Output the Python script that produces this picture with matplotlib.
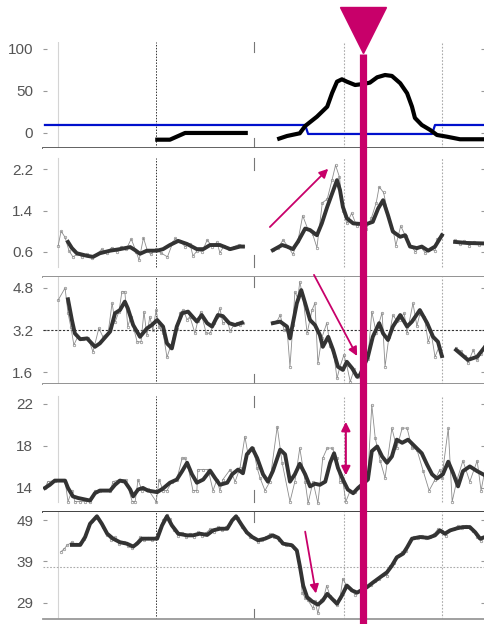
import numpy as np
import matplotlib.pyplot as plt
from matplotlib.lines import Line2D
from matplotlib.transforms import blended_transform_factory

plt.rcParams['font.family'] = ['Liberation Sans', 'DejaVu Sans']

# --- data (time in sampling steps) ---
# panel 1: level (black) and threshold (blue)
p1_black = [
    ([22.9, 25.9, 29.0, 41.8], [-8, -8, 0, 0]),
    ([47.8, 49.8, 52.4, 53.5, 55.9, 58.0, 59.0, 60.0, 61.0, 62.0, 63.7, 65.3, 66.7,
      68.2, 69.8, 71.2, 72.9, 74.3, 75.3, 75.9, 77.3, 79.0, 80.4, 82.4, 85.1, 90.2],
     [-7.5, -3.6, -0.4, 8.3, 19.4, 31.3, 47.6, 61.1, 63.9, 61.1, 57.1, 58.3, 59.9,
      66.3, 69.0, 67.9, 59.2, 47.3, 31.3, 17.9, 9.5, 3.6, -2.4, -4.4, -7.5, -7.5]),
]
p1_blue_t = [0.4, 53.5, 54.1, 79.4, 80.0, 90.2]
p1_blue_v = [9.5, 9.5, -1.2, -1.2, 9.5, 9.5]

# panel 2
p2_smooth = [
    ([5.1, 5.9, 6.9, 9.0, 10.2, 11.6, 13.7, 15.7, 17.8, 18.8, 19.8, 21.2, 23.3, 24.5,
      25.9, 27.6, 29.4, 31.4, 32.7, 34.1, 36.1, 38.2, 40.2, 40.8],
     [0.79, 0.67, 0.57, 0.52, 0.50, 0.57, 0.62, 0.65, 0.69, 0.63, 0.56, 0.62, 0.62, 0.65,
      0.73, 0.81, 0.75, 0.65, 0.65, 0.73, 0.73, 0.65, 0.70, 0.70]),
    ([46.9, 48.8, 49.8, 51.0, 52.0, 53.5, 54.5, 55.9, 56.9, 58.0, 59.0, 60.0, 60.6, 61.2,
      62.0, 63.3, 64.7, 66.1, 67.3, 68.4, 69.4, 70.4, 71.4, 72.9, 73.9, 74.9, 76.3, 77.3,
      78.6, 80.0, 81.4],
     [0.63, 0.73, 0.70, 0.65, 0.79, 1.05, 1.02, 0.92, 1.15, 1.47, 1.73, 1.99, 1.80, 1.47,
      1.25, 1.15, 1.14, 1.14, 1.18, 1.44, 1.60, 1.31, 0.99, 0.89, 0.92, 0.70, 0.67, 0.70,
      0.62, 0.70, 0.92]),
    ([84.1, 86.5, 90.2], [0.79, 0.77, 0.76]),
]
p2_raw = [
    ([3.1, 3.7, 4.5, 5.3, 6.1, 7, 8, 9, 10, 11, 12, 13, 14, 15, 16, 17, 18, 19, 19.6,
      20.5, 21.3, 22, 23, 24, 25.4, 26.5, 27, 28, 29, 30, 30.6, 31.5, 32.5, 33.5, 34.5,
      35.5, 36.1, 37, 38, 39, 40, 40.8],
     [0.72, 1.00, 0.88, 0.62, 0.50, 0.55, 0.50, 0.55, 0.48, 0.55, 0.65, 0.58, 0.68, 0.60,
      0.70, 0.65, 0.85, 0.60, 0.44, 0.87, 0.62, 0.55, 0.65, 0.58, 0.50, 0.78, 0.86, 0.80,
      0.70, 0.75, 0.52, 0.62, 0.60, 0.83, 0.70, 0.78, 0.58, 0.72, 0.65, 0.70, 0.74, 0.72]),
    ([46.9, 48, 49, 50, 51, 52, 53, 54, 55, 55.9, 57, 58, 59, 59.7, 60.5, 61.2, 62, 63,
      64, 65, 66, 67, 68, 68.6, 69.5, 70.5, 71.5, 72, 73, 74, 75, 76, 77, 78, 79, 80,
      80.5, 81.4],
     [0.63, 0.68, 0.83, 0.70, 0.55, 0.80, 1.30, 1.05, 0.95, 0.68, 1.55, 1.62, 2.00, 2.28,
      2.05, 1.40, 1.15, 1.35, 1.10, 1.20, 1.05, 1.25, 1.55, 1.86, 1.75, 1.30, 1.00, 0.72,
      1.10, 0.90, 0.72, 0.60, 0.70, 0.58, 0.65, 0.62, 0.85, 0.92]),
    ([84, 85, 86, 87, 88, 89, 90.2], [0.82, 0.75, 0.80, 0.72, 0.78, 0.74, 0.76]),
]

# panel 3
p3_smooth = [
    ([5.1, 5.9, 6.5, 7.6, 9.0, 10.6, 11.6, 13.1, 13.7, 14.7, 15.7, 16.7, 17.3, 18.4,
      19.8, 21.2, 22.2, 23.3, 24.5, 25.3, 26.3, 27.3, 28.4, 29.6, 31.4, 32.4, 33.5, 34.5,
      35.7, 36.7, 38.0, 39.2, 40.6],
     [4.37, 3.58, 3.07, 2.85, 2.88, 2.56, 2.69, 3.01, 3.14, 3.84, 3.96, 4.28, 4.03, 3.39,
      2.94, 3.26, 3.39, 3.58, 3.33, 2.69, 2.50, 3.33, 3.84, 3.90, 3.52, 3.77, 3.46, 3.33,
      3.77, 3.73, 3.46, 3.39, 3.48]),
    ([46.9, 48.4, 49.8, 50.4, 51.0, 51.8, 52.7, 53.5, 54.5, 55.5, 56.5, 57.1, 58.2, 59.2,
      60.2, 61.2, 62.0, 63.1, 64.1, 64.7, 66.3, 67.3, 68.6, 69.4, 70.4, 71.4, 72.9, 74.3,
      75.3, 76.9, 78.4, 79.6, 80.6, 81.4],
     [3.46, 3.52, 3.33, 2.88, 3.46, 4.22, 4.72, 4.22, 3.58, 3.39, 3.01, 2.56, 2.94, 2.44,
      1.80, 1.68, 1.99, 1.74, 1.42, 1.49, 2.18, 2.94, 3.46, 3.07, 2.82, 3.33, 3.77, 3.33,
      3.52, 3.96, 3.46, 2.94, 2.75, 2.21]),
    ([84.3, 85.5, 86.7, 88.6, 90.2], [2.44, 2.25, 2.06, 2.18, 2.56]),
]
p3_raw = [
    ([3.1, 4.5, 5.1, 5.7, 6.3, 7.1, 8.2, 9.2, 10.2, 11.4, 12.2, 13.3, 14.1, 14.7, 15.5,
      16.1, 16.7, 17.3, 17.9, 18.6, 19.2, 20.0, 20.6, 21.2, 21.8, 22.4, 23.1, 23.7, 24.5,
      25.3, 25.9, 26.7, 27.3, 27.9, 28.6, 29.4, 30.0, 31.0, 31.6, 32.2, 33.3, 34.1, 34.9,
      35.5, 36.1, 36.7, 37.6, 38.2, 39.0, 39.6, 40.2, 40.8],
     [4.34, 4.80, 3.85, 3.30, 2.63, 2.95, 2.85, 2.90, 2.37, 3.27, 2.95, 3.10, 4.23, 3.50,
      3.90, 4.66, 4.66, 3.33, 3.70, 3.20, 2.75, 2.75, 3.90, 3.00, 3.71, 3.20, 3.96, 3.30,
      3.10, 2.16, 2.50, 3.00, 3.25, 3.84, 3.96, 3.60, 3.70, 3.08, 3.55, 3.90, 3.08, 3.08,
      3.46, 3.70, 4.03, 3.46, 3.55, 3.16, 3.40, 3.46, 3.38, 3.48]),
    ([46.9, 47.8, 48.4, 49.2, 49.8, 50.4, 51.0, 51.4, 52.0, 52.4, 53.1, 53.9, 54.9, 55.5,
      56.1, 56.9, 57.9, 58.6, 59.4, 60.0, 60.6, 61.4, 62.0, 62.7, 63.5, 64.3, 66.3, 67.1,
      68.0, 69.2, 69.8, 70.6, 71.4, 72.2, 72.9, 73.7, 74.3, 75.5, 76.3, 76.9, 77.8, 78.6,
      79.2, 80.0, 80.8, 81.4],
     [3.50, 3.55, 3.77, 3.20, 3.25, 1.80, 3.40, 4.66, 4.40, 5.04, 4.40, 3.08, 3.96, 4.23,
      1.93, 2.90, 3.46, 2.60, 2.20, 1.36, 1.80, 2.25, 1.85, 1.23, 1.70, 1.40, 2.10, 3.90,
      3.10, 3.86, 1.80, 2.95, 3.77, 3.55, 3.60, 3.85, 3.08, 4.22, 3.35, 3.80, 3.70, 2.75,
      3.10, 2.18, 2.55, 2.20]),
    ([84.3, 85.3, 86.1, 86.7, 87.8, 88.6, 89.4, 90.2],
     [2.50, 2.40, 2.20, 1.94, 2.44, 2.05, 2.30, 2.70]),
]

# panel 4
p4_smooth_t = [0.4, 1.4, 2.4, 4.5, 5.1, 6.1, 7.1, 8.6, 9.6, 10.6, 11.6, 13.7, 14.7, 15.7,
               16.7, 17.8, 18.4, 19.4, 20.4, 21.4, 23.3, 24.5, 25.9, 27.3, 28.4, 29.4,
               30.4, 31.4, 32.7, 34.1, 35.1, 36.1, 37.6, 38.6, 39.8, 40.8, 41.6, 42.7,
               43.7, 44.9, 45.9, 46.9, 48.4, 49.4, 50.4, 51.4, 52.4, 53.5, 54.5, 55.5,
               56.5, 57.6, 58.6, 59.4, 60.2, 61.2, 62.2, 63.3, 64.3, 66.3, 67.1, 68.2,
               69.2, 70.2, 71.2, 72.2, 73.3, 74.5, 75.9, 77.3, 78.4, 79.4, 80.4, 81.6,
               82.7, 83.7, 84.7, 85.7, 87.1, 88.6, 90.2]
p4_smooth_v = [14.0, 14.3, 14.7, 14.7, 14.0, 13.2, 13.05, 12.9, 12.8, 13.5, 13.75, 13.75,
               14.3, 14.7, 14.6, 13.85, 13.2, 13.85, 14.0, 13.75, 13.6, 13.95, 14.5, 14.8,
               15.6, 16.4, 15.3, 14.5, 14.8, 15.65, 14.95, 14.3, 14.5, 15.3, 15.75, 15.4,
               17.2, 17.8, 16.85, 15.3, 14.6, 15.6, 17.65, 17.2, 14.6, 15.3, 16.3, 15.3,
               14.15, 14.4, 14.3, 14.6, 16.4, 17.3, 15.9, 14.8, 13.85, 13.5, 14.0, 14.8,
               17.5, 17.95, 17.0, 16.4, 17.0, 18.6, 18.3, 18.6, 17.95, 17.3, 16.2, 15.3,
               14.9, 15.3, 16.5, 15.4, 14.15, 15.6, 16.05, 15.6, 15.2]
p4_raw_t = [0.4, 1.0, 2.4, 4.5, 5.1, 5.9, 6.5, 7.6, 8.6, 9.6, 10.6, 11.6, 13.7, 14.3,
            15.7, 16.9, 18.2, 18.8, 19.4, 20.2, 21.4, 23.1, 23.7, 24.5, 25.3, 26.3, 27.3,
            28.4, 29.0, 29.6, 30.6, 31.4, 31.6, 32.7, 33.7, 34.7, 35.5, 36.1, 36.7, 38.2,
            39.2, 40.2, 41.2, 41.8, 42.9, 43.7, 44.3, 45.3, 46.3, 47.8, 48.8, 50.4, 51.4,
            52.4, 53.5, 54.1, 55.1, 56.1, 57.1, 58.0, 59.0, 60.0, 60.6, 61.2, 61.8, 62.7,
            63.7, 64.7, 66.3, 67.1, 67.8, 68.8, 69.8, 71.2, 72.2, 73.3, 74.3, 75.3, 76.3,
            77.6, 78.8, 80.0, 81.0, 81.4, 82.7, 83.5, 84.5, 85.7, 87.1, 88.6, 89.4, 90.2]
p4_raw_v = [14.0, 14.6, 14.7, 14.7, 12.7, 13.75, 12.7, 12.7, 12.7, 12.7, 13.75, 13.75,
            13.75, 14.6, 14.8, 14.8, 12.7, 12.7, 14.8, 13.75, 13.9, 12.7, 14.8, 13.75,
            13.75, 14.6, 14.8, 16.85, 16.85, 16.0, 13.75, 13.75, 15.75, 15.75, 15.75,
            13.75, 14.8, 13.75, 14.8, 15.75, 14.6, 15.9, 18.9, 17.3, 17.8, 15.9, 14.95,
            13.75, 14.6, 19.85, 16.4, 12.7, 14.6, 17.8, 14.6, 12.55, 14.6, 12.55, 16.85,
            17.8, 17.8, 16.85, 14.6, 14.6, 12.7, 13.75, 13.6, 14.0, 15.3, 21.9, 18.75,
            16.6, 14.95, 19.7, 17.8, 19.7, 19.7, 17.8, 17.65, 15.6, 13.75, 14.8, 15.75,
            14.95, 19.7, 12.7, 14.8, 16.6, 14.6, 16.6, 13.75, 15.75]

# panel 5
p5_smooth_t = [5.9, 7.6, 8.6, 9.6, 11.0, 12.0, 13.1, 14.3, 15.7, 17.1, 18.4, 19.2, 20.2,
               21.4, 23.3, 24.3, 25.3, 26.3, 27.6, 29.4, 30.6, 32.0, 33.5, 34.7, 36.1,
               37.6, 38.6, 39.4, 40.6, 41.6, 42.7, 43.9, 45.3, 46.9, 48.0, 49.0, 50.8,
               51.8, 52.4, 53.1, 53.9, 54.9, 56.1, 57.1, 58.0, 59.0, 60.0, 61.0, 62.0,
               63.1, 64.1, 66.1, 67.3, 68.8, 70.2, 71.2, 72.2, 73.5, 74.3, 75.3, 76.9,
               78.6, 80.0, 81.0, 82.0, 83.1, 84.5, 85.7, 87.1, 88.2, 89.2, 90.2]
p5_smooth_v = [43.0, 43.0, 44.9, 48.1, 49.9, 48.1, 45.7, 44.5, 43.65, 43.3, 42.6, 43.3,
               44.5, 44.5, 44.5, 47.7, 49.9, 47.7, 45.7, 45.3, 45.3, 45.7, 45.4, 46.5,
               46.9, 46.9, 48.9, 49.9, 47.7, 46.0, 44.9, 44.1, 44.5, 45.3, 44.7, 43.3,
               42.9, 41.65, 38.0, 33.2, 30.4, 29.4, 28.6, 29.6, 31.2, 30.0, 28.8, 30.8,
               33.2, 32.0, 31.5, 32.8, 33.9, 35.2, 36.4, 38.0, 40.0, 40.9, 42.4, 44.5,
               44.9, 44.7, 45.3, 46.5, 45.7, 46.5, 47.0, 47.3, 47.3, 46.05, 44.5, 44.9]
p5_raw_t = [3.7, 4.3, 4.9, 5.9, 6.7, 7.6, 8.4, 9.2, 10.0, 10.8, 11.4, 12.2, 13.1, 13.9,
            14.7, 15.5, 16.5, 17.3, 18.2, 19.0, 19.8, 20.6, 21.4, 22.2, 23.1, 23.7, 24.5,
            25.3, 25.9, 26.7, 27.6, 28.4, 29.2, 30.0, 30.8, 31.6, 32.4, 33.3, 34.1, 34.9,
            35.7, 36.5, 37.3, 38.2, 39.0, 39.8, 40.6, 41.4, 42.2, 43.1, 43.9, 44.7, 45.5,
            46.3, 47.1, 48.2, 48.8, 49.6, 50.4, 51.2, 51.8, 52.4, 52.9, 53.5, 54.1, 55.1,
            55.5, 56.1, 56.7, 57.3, 57.9, 58.6, 59.4, 60.0, 60.6, 61.2, 62.0, 62.9, 63.7,
            64.5, 66.1, 66.9, 67.8, 68.6, 69.4, 70.2, 70.8, 71.6, 72.4, 73.3, 74.1, 74.9,
            75.7, 76.5, 77.3, 78.2, 79.0, 79.8, 80.6, 81.4, 82.2, 83.1, 83.9, 84.7, 85.5,
            86.3, 87.1, 87.8, 88.6, 89.4, 90.2]
p5_raw_v = [41.4, 42.0, 42.9, 43.65, 43.2, 43.4, 44.5, 47.0, 48.8, 49.6, 49.0, 47.2, 45.4,
            44.2, 44.8, 43.2, 43.6, 42.8, 42.3, 43.5, 44.8, 44.2, 44.6, 44.2, 44.8, 46.5,
            49.0, 50.3, 49.2, 46.6, 45.2, 45.8, 44.9, 45.6, 45.0, 46.0, 45.2, 45.9, 46.8,
            46.2, 47.2, 46.5, 47.3, 48.2, 49.4, 49.5, 47.4, 46.0, 45.0, 44.6, 43.8, 44.3,
            44.8, 45.6, 45.0, 44.2, 43.5, 43.0, 43.2, 42.3, 41.0, 37.5, 31.5, 30.2, 29.6,
            27.7, 29.4, 26.5, 29.8, 30.4, 33.2, 30.6, 29.8, 28.6, 30.2, 34.9, 33.0, 32.2,
            31.0, 31.8, 33.0, 33.4, 34.4, 34.8, 35.8, 35.6, 37.8, 38.6, 40.3, 41.2, 41.6,
            44.0, 44.9, 44.6, 45.2, 44.6, 45.0, 45.6, 46.8, 46.3, 45.2, 46.6, 46.9, 47.6,
            47.0, 47.6, 47.0, 46.4, 44.8, 44.0, 44.9]

y_ticks = [[0, 50, 100], [0.6, 1.4, 2.2], [1.6, 3.2, 4.8], [14, 18, 22], [29, 39, 49]]
y_tick_labels = [["0", "50", "100"], ["0.6", "1.4", "2.2"], ["1.6", "3.2", "4.8"],
                 ["14", "18", "22"], ["29", "39", "49"]]
ref_lines = [None, None, 3.2, None, 37.6]

grid_t = [3.06, 23.1, 61.4, 81.4]
minor_t = 43.1
event_t = 65.3

# --- layout ---
W, H = 485, 624
fig = plt.figure(figsize=(W / 100, H / 100), dpi=100)
panel_px = [(42, 148), (148, 277), (277, 384), (384, 512), (512, 619)]
ylims = [(-17.9, 108.3), (0.109, 2.614), (1.143, 5.219), (11.71, 23.90), (25.14, 50.93)]
spine_cols = ['#555555', '#8a8a8a', '#8a8a8a', '#333333', '#999999']
vspan = [(0, 1), (0.08, 0.92), (0, 1), (0.08, 0.91), (0, 1)]
MAG = '#C8006A'
SMOOTH = '#333333'
RAW = '#8c8c8c'

axes = []
for i, (top, bot) in enumerate(panel_px):
    ax = fig.add_axes([43 / W, 1 - bot / H, 442 / W, (bot - top) / H])
    ax.set_xlim(0, 90.2)
    ax.set_ylim(*ylims[i])
    for s in ['top', 'left', 'right']:
        ax.spines[s].set_visible(False)
    ax.spines['bottom'].set_color(spine_cols[i])
    ax.spines['bottom'].set_linewidth(1.3)
    ax.set_xticks([])
    ax.set_yticks(y_ticks[i])
    ax.set_yticklabels(y_tick_labels[i])
    ax.tick_params(axis='y', direction='in', length=3, width=0.8, color='#999999',
                   labelsize=11, labelcolor='#555555', pad=7, right=True)
    lo, hi = vspan[i]
    ax.axvline(grid_t[0], lo, hi, color='#d4d4d4', lw=0.8)
    ax.axvline(grid_t[1], lo, hi, color='#333333', lw=0.7, ls=(0, (1.5, 1.5)))
    for gt in grid_t[2:]:
        ax.axvline(gt, lo, hi, color='#aaaaaa', lw=0.8, ls=(0, (1.5, 1.5)))
    ax.axvline(minor_t, hi - 0.09, hi, color='#777777', lw=0.8)
    ax.axvline(minor_t, lo, lo + 0.09, color='#777777', lw=0.8)
    if ref_lines[i] is not None:
        if i == 2:
            ax.axhline(ref_lines[i], color='#333333', lw=0.8, ls=(0, (2, 1.5)))
        else:
            ax.axhline(ref_lines[i], color='#aaaaaa', lw=0.8, ls=(0, (1.5, 1.5)))
    axes.append(ax)

ax1, ax2, ax3, ax4, ax5 = axes

# panel 1
ax1.plot(p1_blue_t, p1_blue_v, color='#0010CC', lw=1.6)
for t, v in p1_black:
    ax1.plot(t, v, color='black', lw=3.0, solid_capstyle='butt', solid_joinstyle='round')


def draw_pair(ax, raw_segs, smooth_segs):
    for t, v in raw_segs:
        ax.plot(t, v, color=RAW, lw=0.6, marker='o', ms=1.8, mfc='none', mew=0.5)
    for t, v in smooth_segs:
        ax.plot(t, v, color=SMOOTH, lw=2.8, solid_joinstyle='round')


draw_pair(ax2, p2_raw, p2_smooth)
draw_pair(ax3, p3_raw, p3_smooth)
draw_pair(ax4, [(p4_raw_t, p4_raw_v)], [(p4_smooth_t, p4_smooth_v)])
draw_pair(ax5, [(p5_raw_t, p5_raw_v)], [(p5_smooth_t, p5_smooth_v)])

# arrows
arrow = dict(arrowstyle='-|>', color=MAG, lw=1.3, mutation_scale=13, shrinkA=0, shrinkB=0)
ax2.annotate('', xy=(58.2, 2.21), xytext=(46.3, 1.08), arrowprops=arrow,
             annotation_clip=False)
ax3.annotate('', xy=(64.1, 2.21), xytext=(55.3, 5.30), arrowprops=arrow,
             annotation_clip=False)
ax4.annotate('', xy=(61.8, 15.2), xytext=(61.8, 20.3), annotation_clip=False,
             arrowprops=dict(arrowstyle='<|-|>', color=MAG, lw=1.5, mutation_scale=13,
                             shrinkA=0, shrinkB=0))
ax5.annotate('', xy=(55.7, 31.3), xytext=(53.5, 46.2), arrowprops=arrow,
             annotation_clip=False)

# event marker: vertical bar through all panels + triangle on top
tr = blended_transform_factory(ax1.transData, fig.transFigure)
fig.add_artist(Line2D([event_t, event_t], [0, 1 - 54 / H], transform=tr,
                      color=MAG, lw=5.2, solid_capstyle='butt'))
fig.add_artist(Line2D([event_t], [1 - 30 / H], transform=tr, marker='v', ms=33,
                      color=MAG, mec=MAG, ls='none'))

fig.savefig('out.png', dpi=100)
